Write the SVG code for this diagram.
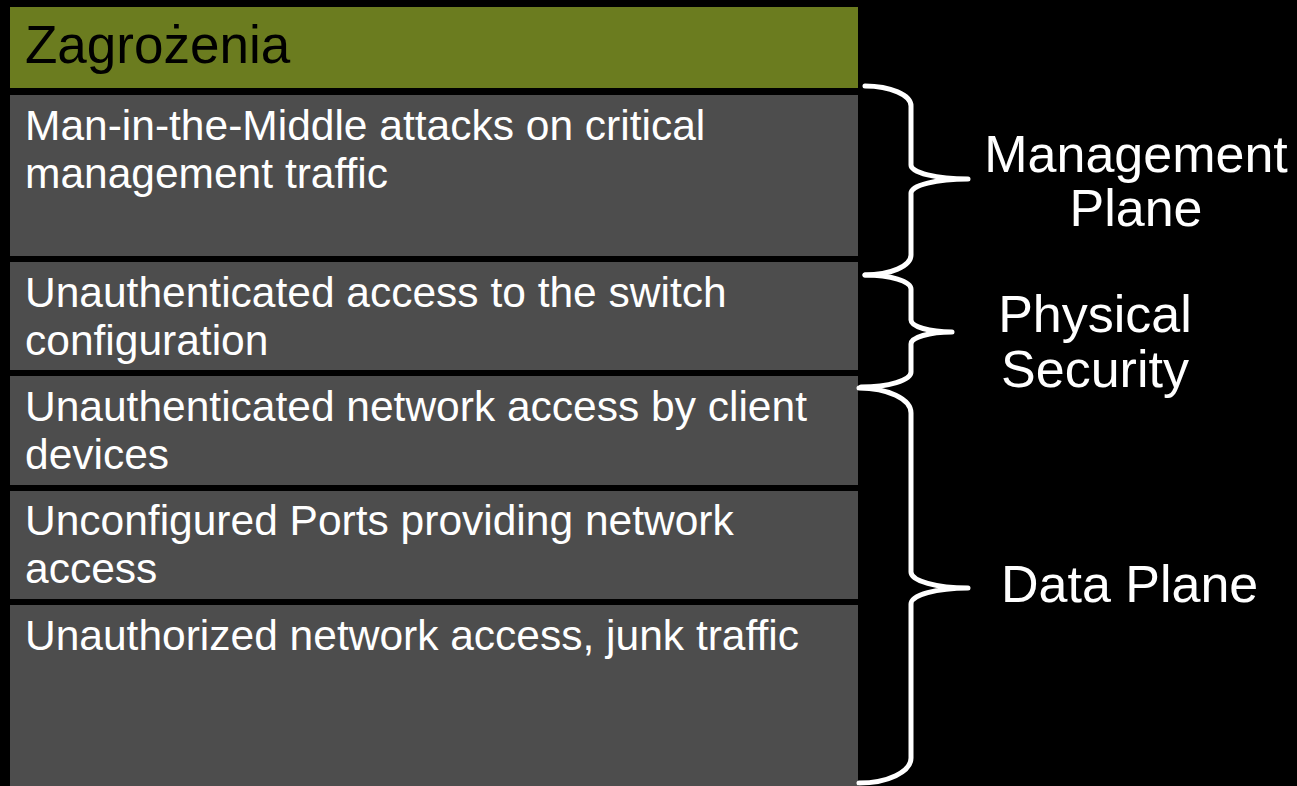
<svg xmlns="http://www.w3.org/2000/svg" width="1297" height="786" viewBox="0 0 1297 786">
  <style>
    .hdr { fill: #6B7C1F; }
    .row { fill: #4D4D4D; }
    .hdr-text { font-family: "Liberation Sans", Arial, sans-serif; font-size: 53px; fill: #000000; }
    .row-text { font-family: "Liberation Sans", Arial, sans-serif; font-size: 42.5px; fill: #FFFFFF; }
    .label { font-family: "Liberation Sans", Arial, sans-serif; font-size: 52px; fill: #FFFFFF; }
    .brace { fill: none; stroke: #FFFFFF; stroke-width: 5; stroke-linecap: round; stroke-linejoin: round; }
  </style>
  <rect x="0" y="0" width="1297" height="786" fill="#000000"/>

  <!-- table header -->
  <g id="header">
    <rect class="hdr" x="10" y="7" width="848" height="81"/>
    <text class="hdr-text" x="25" y="63">Zagrożenia</text>
  </g>

  <!-- threat rows -->
  <g id="row-mitm">
    <rect class="row" x="10" y="95" width="848" height="161"/>
    <text class="row-text" x="25" y="140">Man-in-the-Middle attacks on critical</text>
    <text class="row-text" x="25" y="188">management traffic</text>
  </g>
  <g id="row-switch-config">
    <rect class="row" x="10" y="262" width="848" height="108"/>
    <text class="row-text" x="25" y="307">Unauthenticated access to the switch</text>
    <text class="row-text" x="25" y="355">configuration</text>
  </g>
  <g id="row-client-access">
    <rect class="row" x="10" y="376" width="848" height="109"/>
    <text class="row-text" x="25" y="421">Unauthenticated network access by client</text>
    <text class="row-text" x="25" y="469">devices</text>
  </g>
  <g id="row-unconfigured-ports">
    <rect class="row" x="10" y="491" width="848" height="108"/>
    <text class="row-text" x="25" y="535">Unconfigured Ports providing network</text>
    <text class="row-text" x="25" y="583">access</text>
  </g>
  <g id="row-junk-traffic">
    <rect class="row" x="10" y="605" width="848" height="181"/>
    <text class="row-text" x="25" y="650">Unauthorized network access, junk traffic</text>
  </g>

  <!-- grouping braces -->
  <g id="connectors">
    <path class="brace" d="M865,86 A46,20 0 0 1 911,106 L911,165 A57,14 0 0 0 968,179 A57,14 0 0 0 911,193 L911,255 A46,20 0 0 1 865,275"/>
    <path class="brace" d="M865,275 A46,14 0 0 1 911,289 L911,320 A41,12 0 0 0 952,332 A41,12 0 0 0 911,344 L911,372 A50,15 0 0 1 861,387"/>
    <path class="brace" d="M859,388 A52,25 0 0 1 911,413 L911,572 A57,16 0 0 0 968,588 A57,16 0 0 0 911,604 L911,758 A52,25 0 0 1 859,783"/>
  </g>

  <!-- plane labels -->
  <g id="label-management">
    <text class="label" x="1136" y="172" text-anchor="middle">Management</text>
    <text class="label" x="1136" y="226" text-anchor="middle">Plane</text>
  </g>
  <g id="label-physical">
    <text class="label" x="1095" y="332" text-anchor="middle">Physical</text>
    <text class="label" x="1095" y="387" text-anchor="middle">Security</text>
  </g>
  <g id="label-data">
    <text class="label" x="1001" y="602">Data Plane</text>
  </g>
</svg>
